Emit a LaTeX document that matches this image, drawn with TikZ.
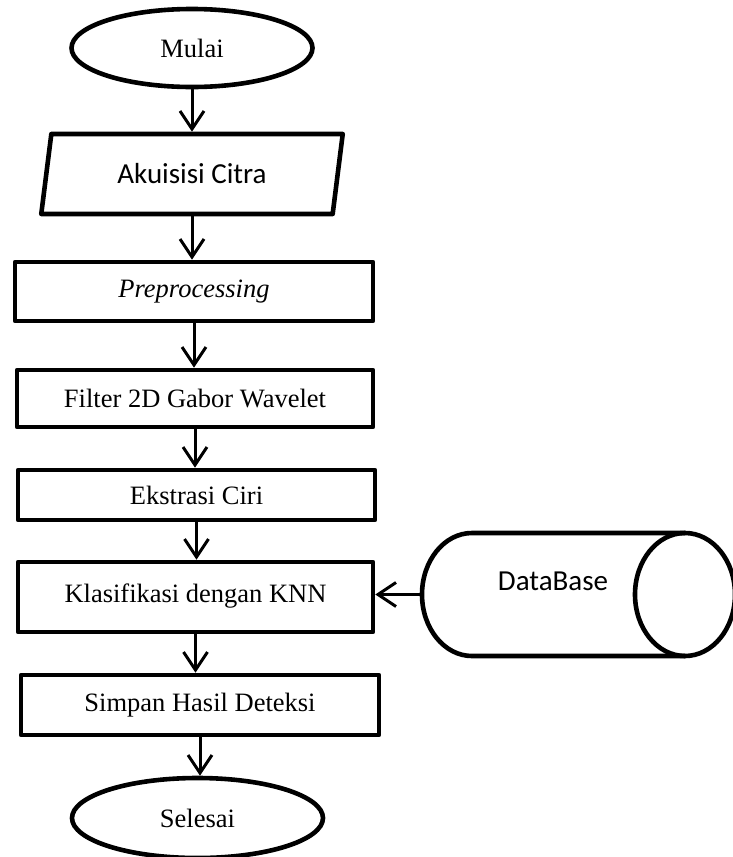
\documentclass[tikz,border=0pt]{standalone}
\usepackage{fontspec}
\setmainfont{Liberation Serif}
\newfontfamily\calfont{Carlito}
\usetikzlibrary{shapes.geometric,arrows.meta}
\begin{document}
\begin{tikzpicture}[x=1pt,y=-1pt,
  shapeline/.style={draw, line width=4.6pt, line join=round},
  term/.style={shapeline, ellipse, inner sep=0pt, font=\fontsize{26.5}{30}\selectfont},
  io/.style={shapeline, trapezium, trapezium left angle=75.3, trapezium right angle=104.7,
    trapezium stretches=true, inner sep=0pt, font=\calfont\fontsize{29}{32}\selectfont},
  proc/.style={shapeline, rectangle, inner sep=0pt, font=\fontsize{26.5}{30}\selectfont},
  arr/.style={line width=3pt, line cap=round, -{Straight Barb[length=18pt,width=24pt]}}
]
\useasboundingbox (0,0) rectangle (732,857);
\fill[white] (0,0) rectangle (732,857);

\node[term, minimum width=241pt, minimum height=78pt] (mulai) at (192,48) {Mulai};
\node[io, minimum width=302pt, minimum height=80pt] (akuisisi) at (192,174) {Akuisisi Citra};
\node[proc, minimum width=358pt, minimum height=59pt] (pre) at (194,291.5) {\textit{Preprocessing}};
\node[proc, minimum width=356pt, minimum height=57pt] (filter) at (195,398.5) {Filter 2D Gabor Wavelet};
\node[proc, minimum width=357pt, minimum height=50pt] (ekstrasi) at (196.5,495) {Ekstrasi Ciri};
\node[proc, minimum width=355pt, minimum height=70pt] (klas) at (195.5,597) {\raisebox{7pt}{Klasifikasi dengan KNN}};
\node[proc, minimum width=358pt, minimum height=60pt] (simpan) at (200,705) {Simpan Hasil Deteksi};
\node[term, minimum width=251pt, minimum height=80pt] (selesai) at (197.5,818) {Selesai};

% database cylinder
\node[minimum width=313pt, minimum height=123pt, inner sep=0pt, outer sep=2.3pt] (db) at (578.5,594.5) {};
\draw[shapeline] (685,533) -- (472,533)
  arc[start angle=-90, end angle=-270, x radius=50, y radius=61.5] -- (685,656);
\draw[shapeline] (685,594.5) ellipse [x radius=50, y radius=61.5];
\node[font=\calfont\fontsize{29}{32}\selectfont] (dbtext) at (553,581) {DataBase};

\draw[arr] (mulai.south) -- (mulai.south |- akuisisi.north);
\draw[arr] (akuisisi.south) -- (akuisisi.south |- pre.north);
\draw[arr] (pre.south) -- (pre.south |- filter.north);
\draw[arr] (filter.south) -- (filter.south |- ekstrasi.north);
\draw[arr] (ekstrasi.south) -- (ekstrasi.south |- klas.north);
\draw[arr] (klas.south) -- (klas.south |- simpan.north);
\draw[arr] (simpan.south) -- (simpan.south |- selesai.north);
\draw[arr] (db.west) -- (klas.east |- db.west);
\end{tikzpicture}
\end{document}
